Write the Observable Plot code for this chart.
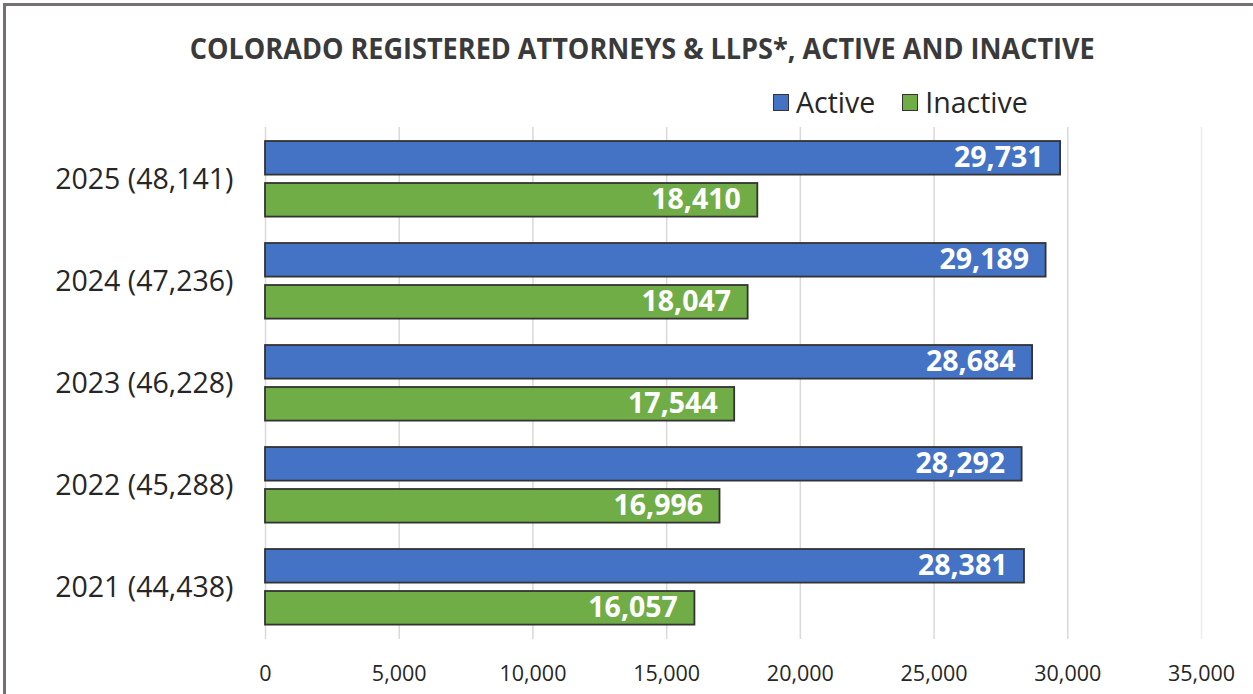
<!DOCTYPE html>
<html>
<head>
<meta charset="utf-8">
<script src="https://cdn.jsdelivr.net/npm/d3@7"></script>
<script src="https://cdn.jsdelivr.net/npm/@observablehq/plot@0.6"></script>
<style>
  html, body { margin: 0; padding: 0; background: #fff; overflow: hidden; }
  #wrap { position: relative; width: 1253px; height: 694px; font-family: "Open Sans", sans-serif; }
  #frame { position: absolute; left: 3px; top: 3px; width: 1300px; height: 800px; border-left: 3px solid #767171; border-top: 3px solid #767171; box-sizing: border-box; }
  #title { position: absolute; left: 0; width: 1285px; top: 29px; text-align: center; font-weight: 700; font-size: 28px; line-height: 38px; color: #3a3a3a; white-space: nowrap; }
  #title span { display: inline-block; transform-origin: center; }
  #legend { position: absolute; top: 85px; left: 773px; display: flex; align-items: center; font-size: 28.5px; line-height: 34px; color: #262626; white-space: nowrap; }
  #legend .sw { display: inline-block; width: 14px; height: 15px; border: 1.5px solid #333; margin-right: 7px; }
  #legend .item { display: flex; align-items: center; margin-right: 27px; }
  #chart { position: absolute; left: 0; top: 118px; }
</style>
</head>
<body>
<div id="wrap">
  <div id="frame"></div>
  <div id="title"><span id="titleText"></span></div>
  <div id="legend"></div>
  <div id="chart"></div>
</div>
<script>
const titleText = "COLORADO REGISTERED ATTORNEYS & LLPS*, ACTIVE AND INACTIVE";
const years = ["2025", "2024", "2023", "2022", "2021"];
const active = [29731, 29189, 28684, 28292, 28381];
const inactive = [18410, 18047, 17544, 16996, 16057];
const seriesNames = ["Active", "Inactive"];
const seriesColors = ["#4472C4", "#70AD47"];
const xTicks = [0, 5000, 10000, 15000, 20000, 25000, 30000, 35000];

const fmt = d3.format(",");
const labels = years.map((y, i) => `${y} (${fmt(active[i] + inactive[i])})`);
const activeData = years.map((y, i) => ({label: labels[i], value: active[i]}));
const inactiveData = years.map((y, i) => ({label: labels[i], value: inactive[i]}));

// title
const t = document.getElementById("titleText");
t.textContent = titleText;
const tw = t.getBoundingClientRect().width;
t.style.transform = `scaleX(${905 / tw})`;

// legend
const lg = document.getElementById("legend");
seriesNames.forEach((n, i) => {
  const it = document.createElement("div");
  it.className = "item";
  const sw = document.createElement("span");
  sw.className = "sw";
  sw.style.background = seriesColors[i];
  it.appendChild(sw);
  it.appendChild(document.createTextNode(n));
  lg.appendChild(it);
});

const H = 576, mT = 9, mB = 55;
const band = (H - mT - mB) / years.length;
const barH = 34, outer = 13, gap = 8;

const chart = Plot.plot({
  width: 1253,
  height: H,
  marginLeft: 265,
  marginRight: 52,
  marginTop: mT,
  marginBottom: mB,
  style: {fontFamily: "'Open Sans', sans-serif", color: "#262626", background: "transparent"},
  x: {domain: [0, 35000]},
  y: {domain: labels, padding: 0},
  marks: [
    Plot.ruleX(xTicks, {stroke: d => d === 35000 ? "#ececec" : "#d9d9d9", strokeWidth: 1.5}),
    Plot.barX(activeData, {x: "value", y: "label", fill: seriesColors[0], stroke: "#333", strokeWidth: 1.8,
      insetTop: outer, insetBottom: band - outer - barH}),
    Plot.barX(inactiveData, {x: "value", y: "label", fill: seriesColors[1], stroke: "#333", strokeWidth: 1.8,
      insetTop: outer + barH + gap, insetBottom: band - outer - 2 * barH - gap}),
    Plot.text(activeData, {x: "value", y: "label", text: d => fmt(d.value), textAnchor: "end", dx: -17,
      dy: outer + barH / 2 - band / 2, fill: "white", fontWeight: 700, fontSize: 28.5}),
    Plot.text(inactiveData, {x: "value", y: "label", text: d => fmt(d.value), textAnchor: "end", dx: -17,
      dy: outer + barH + gap + barH / 2 - band / 2, fill: "white", fontWeight: 700, fontSize: 28.5}),
    Plot.axisY({tickSize: 0, tickPadding: 32, fontSize: 28.5, label: null}),
    Plot.axisX({ticks: xTicks, tickFormat: fmt, tickSize: 0, tickPadding: 26, fontSize: 21.5, label: null})
  ]
});
document.getElementById("chart").appendChild(chart);
</script>
</body>
</html>
